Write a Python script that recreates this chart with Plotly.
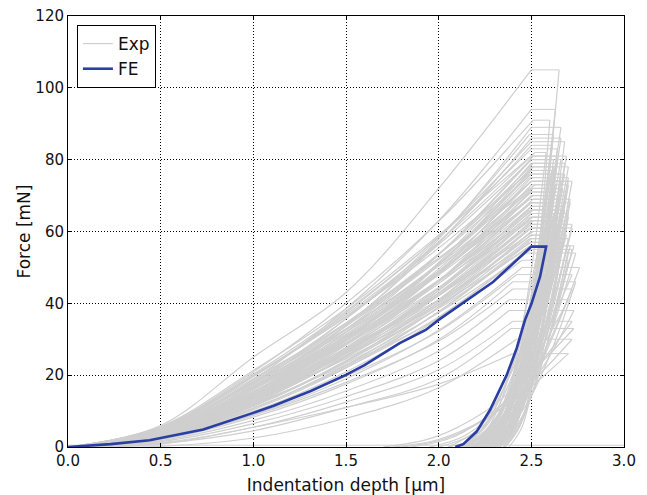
import plotly.graph_objects as go

# ---------------- data ----------------
# Experimental curves: loading forces [mN] at depths 0, 0.5, 1.0, 1.5, 2.0 um and at the
# peak depth EXP_HMAX, hold to EXP_HHOLD, then unloading points.
LOAD_DEPTHS = [0.0, 0.5, 1.0, 1.5, 2.0]

EXP_LOAD_F = [
    [0, 6.0, 25.0, 43.0, 72.0], [0, 4.7, 18.8, 38.5, 63.0], [0, 5.5, 20.9, 40.0, 62.8],
    [0, 4.0, 16.0, 33.8, 57.9], [0, 4.4, 17.4, 35.7, 58.3], [0, 5.1, 19.6, 37.4, 58.7],
    [0, 5.7, 21.3, 38.5, 59.0], [0, 4.0, 16.0, 32.8, 53.6], [0, 3.6, 14.2, 30.0, 51.4],
    [0, 4.7, 17.9, 34.3, 53.8], [0, 5.4, 20.0, 36.2, 55.4], [0, 3.8, 15.2, 31.2, 50.9],
    [0, 3.4, 13.5, 28.5, 48.8], [0, 4.4, 17.0, 32.6, 51.1], [0, 5.1, 19.0, 34.3, 52.6],
    [0, 3.6, 14.4, 29.5, 48.2], [0, 3.2, 12.8, 27.0, 46.2], [0, 4.2, 16.1, 30.8, 48.3],
    [0, 3.5, 13.8, 28.3, 46.2], [0, 4.8, 17.7, 32.0, 49.0], [0, 3.0, 12.1, 25.5, 43.6],
    [0, 4.0, 15.2, 29.0, 45.5], [0, 3.3, 13.0, 26.7, 43.6], [0, 4.5, 16.6, 30.1, 46.1],
    [0, 2.8, 11.3, 23.9, 41.0], [0, 3.7, 14.3, 27.3, 42.8], [0, 3.1, 12.2, 25.0, 40.9],
    [0, 2.7, 10.8, 22.8, 39.0], [0, 3.5, 13.6, 26.0, 40.7], [0, 2.9, 11.6, 23.8, 38.9],
    [0, 4.0, 14.8, 26.8, 41.0], [0, 2.5, 9.9, 20.9, 35.8], [0, 2.7, 10.8, 22.1, 36.2],
    [0, 3.1, 12.0, 22.9, 35.9], [0, 2.3, 9.0, 19.0, 32.5], [0, 2.4, 9.6, 19.7, 32.2],
    [0, 2.1, 8.3, 17.5, 29.9], [0, 2.2, 8.8, 18.0, 29.5], [0, 1.8, 7.4, 15.6, 26.7],
    [0, 1.5, 6.5, 14.0, 24.0], [0, 1.2, 5.5, 12.5, 21.5], [0, 1.0, 4.5, 11.0, 19.0],
    [0, 0.8, 5.5, 11.0, 17.5], [0, 0.2, 2.5, 8.0, 16.5],
    [0, 3.5, 14.0, 29.6, 50.7], [0, 3.7, 14.8, 30.3, 49.6], [0, 4.9, 18.2, 32.9, 50.4],
    [0, 4.0, 15.4, 29.5, 46.2], [0, 3.2, 12.8, 26.2, 42.9], [0, 3.7, 14.0, 26.8, 42.1],
    [0, 2.6, 10.4, 22.0, 37.7], [0, 3.4, 12.9, 24.6, 38.6],
    [0, 5.3, 19.8, 36.9, 57.1], [0, 4.3, 17.0, 33.6, 53.7], [0, 3.9, 14.6, 30.4, 50.8],
    [0, 4.9, 18.6, 34.6, 53.6], [0, 4.1, 16.1, 31.9, 51.0], [0, 3.7, 13.9, 28.8, 48.2],
    [0, 4.7, 17.6, 32.8, 50.8], [0, 3.9, 15.3, 30.2, 48.3], [0, 3.5, 13.3, 27.7, 46.2],
    [0, 4.5, 16.9, 31.4, 48.6], [0, 3.7, 14.6, 28.9, 46.2], [0, 3.4, 12.7, 26.5, 44.2],
    [0, 4.3, 16.2, 30.0, 46.5], [0, 3.6, 14.0, 27.6, 44.2], [0, 3.2, 12.2, 25.3, 42.2],
    [0, 4.1, 15.4, 28.7, 44.4], [0, 3.4, 13.3, 26.4, 42.2], [0, 3.1, 11.6, 24.1, 40.3],
    [0, 3.9, 14.7, 27.3, 42.3], [0, 3.2, 12.7, 25.1, 40.1], [0, 2.9, 10.8, 22.5, 37.6],
    [0, 3.6, 13.7, 25.5, 39.5], [0, 3.0, 11.8, 23.4, 37.4], [0, 4.6, 18.1, 35.7, 57.1],
    [0, 4.1, 15.4, 32.0, 53.5], [0, 5.2, 19.6, 36.4, 56.4], [0, 4.8, 18.1, 33.7, 52.2],
    [0, 4.0, 15.5, 30.6, 49.0], [0, 4.4, 16.7, 30.9, 47.9], [0, 3.3, 12.5, 26.1, 43.6],
    [0, 3.5, 13.5, 26.8, 42.8], [0, 3.0, 11.4, 23.7, 39.6], [0, 4.3, 16.3, 34.0, 56.8],
    [0, 5.4, 20.3, 37.8, 58.5],
]
EXP_FMAX = [105, 94, 91, 89, 87, 85, 82, 80, 79, 78, 77, 76, 75, 74, 73, 72, 71, 70, 69, 68,
            67, 66, 65, 64, 63, 62, 61, 60, 59, 58, 57, 55, 54, 52, 50, 48, 46, 44, 41, 38,
            35, 33, 26, 30, 78, 74, 70, 67, 64, 61, 58, 56,
            81, 79, 77, 76, 75, 73, 72, 71, 70, 69, 68, 67, 66, 65, 64, 63, 62, 61, 60, 59,
            57, 56, 55, 84, 81, 80, 74, 72, 68, 66, 63, 60, 86, 83]
EXP_HMAX = [2.50, 2.50, 2.51, 2.50, 2.49, 2.50, 2.52, 2.50, 2.50, 2.51, 2.50, 2.49, 2.50,
            2.50, 2.52, 2.50, 2.49, 2.50, 2.51, 2.50, 2.50, 2.49, 2.50, 2.51, 2.50, 2.50,
            2.49, 2.50, 2.50, 2.49, 2.50, 2.48, 2.47, 2.45, 2.45, 2.42, 2.40, 2.40, 2.38,
            2.38, 2.40, 2.39, 2.40, 2.42, 2.50, 2.50, 2.51, 2.50, 2.49, 2.50, 2.50, 2.49,
            2.50, 2.51, 2.50, 2.50, 2.49, 2.50, 2.51, 2.50, 2.50, 2.49, 2.50, 2.50, 2.51,
            2.50, 2.50, 2.49, 2.50, 2.50, 2.51, 2.50, 2.49, 2.50, 2.50, 2.50, 2.51, 2.50,
            2.50, 2.49, 2.50, 2.50, 2.51, 2.50, 2.50, 2.50]
EXP_HHOLD = [2.65, 2.63, 2.60, 2.66, 2.62, 2.68, 2.58, 2.66, 2.64, 2.70, 2.62, 2.68, 2.60,
             2.66, 2.70, 2.63, 2.69, 2.65, 2.71, 2.62, 2.67, 2.64, 2.70, 2.66, 2.61, 2.72,
             2.65, 2.68, 2.63, 2.70, 2.67, 2.72, 2.74, 2.70, 2.76, 2.72, 2.74, 2.72, 2.70,
             2.73, 2.72, 2.73, 2.70, 2.72, 2.62, 2.70, 2.64, 2.68, 2.62, 2.69, 2.66, 2.71,
             2.64, 2.68, 2.61, 2.66, 2.70, 2.63, 2.67, 2.62, 2.69, 2.65, 2.71, 2.64, 2.68,
             2.62, 2.70, 2.66, 2.65, 2.72, 2.63, 2.69, 2.67, 2.73, 2.70, 2.61, 2.69, 2.62,
             2.72, 2.66, 2.60, 2.66, 2.68, 2.64, 2.66, 2.64]
# unloading: depths at three decreasing forces, then final depth at zero force
EXP_UNLOAD_H = [
    [2.57, 2.49, 2.39, 2.30], [2.54, 2.45, 2.35, 2.25], [2.54, 2.48, 2.415, 2.35],
    [2.55, 2.44, 2.32, 2.20], [2.54, 2.46, 2.37, 2.28], [2.59, 2.51, 2.41, 2.32],
    [2.50, 2.42, 2.34, 2.25], [2.545, 2.43, 2.305, 2.18], [2.56, 2.48, 2.39, 2.30],
    [2.585, 2.47, 2.345, 2.22], [2.555, 2.49, 2.42, 2.35], [2.55, 2.43, 2.29, 2.15],
    [2.52, 2.445, 2.355, 2.27], [2.55, 2.44, 2.32, 2.20], [2.60, 2.51, 2.40, 2.30],
    [2.51, 2.39, 2.25, 2.12], [2.585, 2.48, 2.365, 2.25], [2.585, 2.52, 2.45, 2.38],
    [2.58, 2.46, 2.32, 2.18], [2.54, 2.46, 2.37, 2.28], [2.53, 2.40, 2.25, 2.10],
    [2.545, 2.45, 2.345, 2.24], [2.61, 2.53, 2.43, 2.33], [2.54, 2.42, 2.28, 2.15],
    [2.51, 2.42, 2.31, 2.20], [2.61, 2.51, 2.39, 2.27], [2.51, 2.37, 2.21, 2.05],
    [2.59, 2.50, 2.40, 2.30], [2.52, 2.42, 2.30, 2.18], [2.59, 2.48, 2.36, 2.24],
    [2.54, 2.41, 2.26, 2.12], [2.61, 2.50, 2.38, 2.26], [2.61, 2.49, 2.34, 2.20],
    [2.60, 2.51, 2.40, 2.30], [2.61, 2.47, 2.31, 2.15], [2.55, 2.38, 2.19, 2.00],
    [2.615, 2.495, 2.355, 2.22], [2.57, 2.43, 2.26, 2.10], [2.52, 2.35, 2.145, 1.95],
    [2.57, 2.41, 2.23, 2.05], [2.51, 2.31, 2.08, 1.85], [2.48, 2.25, 1.97, 1.70],
    [2.47, 2.25, 2.00, 1.75], [2.50, 2.29, 2.04, 1.80],
    [2.53, 2.45, 2.35, 2.26], [2.575, 2.455, 2.315, 2.18], [2.56, 2.49, 2.40, 2.32],
    [2.565, 2.455, 2.325, 2.20], [2.495, 2.375, 2.235, 2.10], [2.59, 2.50, 2.39, 2.28],
    [2.535, 2.415, 2.275, 2.14], [2.60, 2.49, 2.36, 2.24],
    [2.544, 2.452, 2.344, 2.24], [2.589, 2.501, 2.399, 2.30], [2.502, 2.399, 2.277, 2.16],
    [2.569, 2.481, 2.379, 2.28], [2.58, 2.465, 2.33, 2.20], [2.541, 2.456, 2.356, 2.26],
    [2.555, 2.444, 2.315, 2.19], [2.546, 2.474, 2.391, 2.31], [2.558, 2.432, 2.283, 2.14],
    [2.559, 2.471, 2.369, 2.27], [2.592, 2.480, 2.347, 2.22], [2.566, 2.494, 2.411, 2.33],
    [2.558, 2.44, 2.303, 2.17], [2.531, 2.446, 2.346, 2.25], [2.602, 2.507, 2.397, 2.29],
    [2.533, 2.411, 2.268, 2.13], [2.578, 2.509, 2.428, 2.35], [2.595, 2.476, 2.335, 2.20],
    [2.534, 2.442, 2.334, 2.23], [2.548, 2.413, 2.253, 2.10], [2.574, 2.482, 2.374, 2.27],
    [2.598, 2.472, 2.323, 2.18], [2.606, 2.517, 2.411, 2.31], [2.528, 2.45, 2.358, 2.27],
    [2.575, 2.464, 2.335, 2.21], [2.543, 2.47, 2.383, 2.30], [2.607, 2.499, 2.372, 2.25],
    [2.588, 2.519, 2.438, 2.36], [2.499, 2.403, 2.289, 2.18], [2.564, 2.472, 2.364, 2.26],
    [2.555, 2.436, 2.295, 2.16], [2.563, 2.49, 2.403, 2.32], [2.554, 2.453, 2.334, 2.22],
    [2.566, 2.494, 2.411, 2.33],
]
EXP_UNLOAD_F = [
    [63.0, 31.5, 8.4, 0], [56.4, 28.2, 7.5, 0], [54.6, 27.3, 7.3, 0], [53.4, 26.7, 7.1, 0],
    [52.2, 26.1, 7.0, 0], [51.0, 25.5, 6.8, 0], [49.2, 24.6, 6.6, 0], [48.0, 24.0, 6.4, 0],
    [47.4, 23.7, 6.3, 0], [46.8, 23.4, 6.2, 0], [46.2, 23.1, 6.2, 0], [45.6, 22.8, 6.1, 0],
    [45.0, 22.5, 6.0, 0], [44.4, 22.2, 5.9, 0], [43.8, 21.9, 5.8, 0], [43.2, 21.6, 5.8, 0],
    [42.6, 21.3, 5.7, 0], [42.0, 21.0, 5.6, 0], [41.4, 20.7, 5.5, 0], [40.8, 20.4, 5.4, 0],
    [40.2, 20.1, 5.4, 0], [39.6, 19.8, 5.3, 0], [39.0, 19.5, 5.2, 0], [38.4, 19.2, 5.1, 0],
    [37.8, 18.9, 5.0, 0], [37.2, 18.6, 5.0, 0], [36.6, 18.3, 4.9, 0], [36.0, 18.0, 4.8, 0],
    [35.4, 17.7, 4.7, 0], [34.8, 17.4, 4.6, 0], [34.2, 17.1, 4.6, 0], [33.0, 16.5, 4.4, 0],
    [32.4, 16.2, 4.3, 0], [31.2, 15.6, 4.2, 0], [30.0, 15.0, 4.0, 0], [28.8, 14.4, 3.8, 0],
    [27.6, 13.8, 3.7, 0], [26.4, 13.2, 3.5, 0], [24.6, 12.3, 3.3, 0], [22.8, 11.4, 3.0, 0],
    [21.0, 10.5, 2.8, 0], [19.8, 9.9, 2.6, 0], [15.6, 7.8, 2.1, 0], [18.0, 9.0, 2.4, 0],
    [46.8, 23.4, 6.2, 0], [44.4, 22.2, 5.9, 0], [42.0, 21.0, 5.6, 0], [40.2, 20.1, 5.4, 0],
    [38.4, 19.2, 5.1, 0], [36.6, 18.3, 4.9, 0], [34.8, 17.4, 4.6, 0], [33.6, 16.8, 4.5, 0],
    [48.6, 24.3, 6.5, 0], [47.4, 23.7, 6.3, 0], [46.2, 23.1, 6.2, 0], [45.6, 22.8, 6.1, 0],
    [45.0, 22.5, 6.0, 0], [43.8, 21.9, 5.8, 0], [43.2, 21.6, 5.8, 0], [42.6, 21.3, 5.7, 0],
    [42.0, 21.0, 5.6, 0], [41.4, 20.7, 5.5, 0], [40.8, 20.4, 5.4, 0], [40.2, 20.1, 5.4, 0],
    [39.6, 19.8, 5.3, 0], [39.0, 19.5, 5.2, 0], [38.4, 19.2, 5.1, 0], [37.8, 18.9, 5.0, 0],
    [37.2, 18.6, 5.0, 0], [36.6, 18.3, 4.9, 0], [36.0, 18.0, 4.8, 0], [35.4, 17.7, 4.7, 0],
    [34.2, 17.1, 4.6, 0], [33.6, 16.8, 4.5, 0], [33.0, 16.5, 4.4, 0], [50.4, 25.2, 6.7, 0],
    [48.6, 24.3, 6.5, 0], [48.0, 24.0, 6.4, 0], [44.4, 22.2, 5.9, 0], [43.2, 21.6, 5.8, 0],
    [40.8, 20.4, 5.4, 0], [39.6, 19.8, 5.3, 0], [37.8, 18.9, 5.0, 0], [36.0, 18.0, 4.8, 0],
    [51.6, 25.8, 6.9, 0], [49.8, 24.9, 6.6, 0],
]
# flat zero-force records spanning the whole depth range
EXP_BASE_H = [0.0, 3.0]
EXP_BASE_F = [0.5, 0.5]

# FE simulation curve
FE_H = [0.0, 0.23, 0.44, 0.73, 1.00, 1.11, 1.31, 1.50, 1.60, 1.79, 1.93, 2.00, 2.295,
        2.50, 2.58, 2.547, 2.50, 2.466, 2.421, 2.367, 2.277, 2.205, 2.133, 2.09]
FE_F = [0.0, 0.8, 1.9, 4.9, 9.5, 11.5, 15.6, 20.1, 22.8, 28.9, 32.6, 35.4, 46.0,
        55.8, 55.8, 47.4, 39.8, 35.4, 27.5, 20.0, 10.3, 4.3, 0.8, 0.0]

X_TICKS = [0.0, 0.5, 1.0, 1.5, 2.0, 2.5, 3.0]
X_TICK_TEXT = ["0.0", "0.5", "1.0", "1.5", "2.0", "2.5", "3.0"]
Y_TICKS = [0, 20, 40, 60, 80, 100, 120]

# ---------------- build traces ----------------
GREY = "#cfcfcf"
load_x, load_y, hold_x, hold_y, unl_x, unl_y = [], [], [], [], [], []
for i in range(len(EXP_FMAX)):
    load_x += LOAD_DEPTHS + [EXP_HMAX[i], None]
    load_y += EXP_LOAD_F[i] + [EXP_FMAX[i], None]
    hold_x += [EXP_HMAX[i], EXP_HHOLD[i], None]
    hold_y += [EXP_FMAX[i], EXP_FMAX[i], None]
    unl_x += [EXP_HHOLD[i]] + EXP_UNLOAD_H[i] + [None]
    unl_y += [EXP_FMAX[i]] + EXP_UNLOAD_F[i] + [None]

fig = go.Figure()
fig.add_trace(go.Scatter(x=EXP_BASE_H, y=EXP_BASE_F, mode="lines",
                         line=dict(color=GREY, width=1), showlegend=False, hoverinfo="skip"))
fig.add_trace(go.Scatter(x=load_x, y=load_y, mode="lines", name="Exp",
                         line=dict(color=GREY, width=1.2, shape="spline", smoothing=1.0)))
fig.add_trace(go.Scatter(x=hold_x, y=hold_y, mode="lines", showlegend=False,
                         line=dict(color=GREY, width=1)))
fig.add_trace(go.Scatter(x=unl_x, y=unl_y, mode="lines", showlegend=False,
                         line=dict(color=GREY, width=1.2, shape="spline", smoothing=1.0)))
fig.add_trace(go.Scatter(x=FE_H, y=FE_F, mode="lines", name="FE",
                         line=dict(color="#2b3ea3", width=2.6)))

axis_common = dict(
    showline=True, linecolor="black", linewidth=1, mirror="ticks",
    ticks="inside", ticklen=4, tickwidth=1, tickcolor="black",
    showgrid=True, gridcolor="black", gridwidth=1, griddash="1px,2px",
    zeroline=False, tickfont=dict(family="DejaVu Sans", size=15, color="#111"),
)
fig.update_xaxes(range=[0, 3], tickvals=X_TICKS, ticktext=X_TICK_TEXT,
                 title=dict(text="Indentation depth [μm]", standoff=10,
                            font=dict(family="DejaVu Sans", size=17, color="#111")),
                 **axis_common)
fig.update_yaxes(range=[0, 120], tickvals=Y_TICKS,
                 title=dict(text="Force [mN]", standoff=0,
                            font=dict(family="DejaVu Sans", size=17, color="#111")),
                 **axis_common)
fig.update_layout(
    width=647, height=495,
    margin=dict(l=68, r=23, t=16, b=48, autoexpand=False),
    paper_bgcolor="white", plot_bgcolor="white",
    font=dict(family="DejaVu Sans", color="#111"),
    legend=dict(x=0.016, y=0.979, xanchor="left", yanchor="top",
                bgcolor="white", bordercolor="black", borderwidth=1,
                font=dict(family="DejaVu Sans", size=17, color="#111"),
                tracegroupgap=0, entrywidth=60, entrywidthmode="pixels"),
)
fig.write_html("out.html", config={"displayModeBar": False},
               post_script="document.body.style.margin='0';document.body.style.padding='0';")
